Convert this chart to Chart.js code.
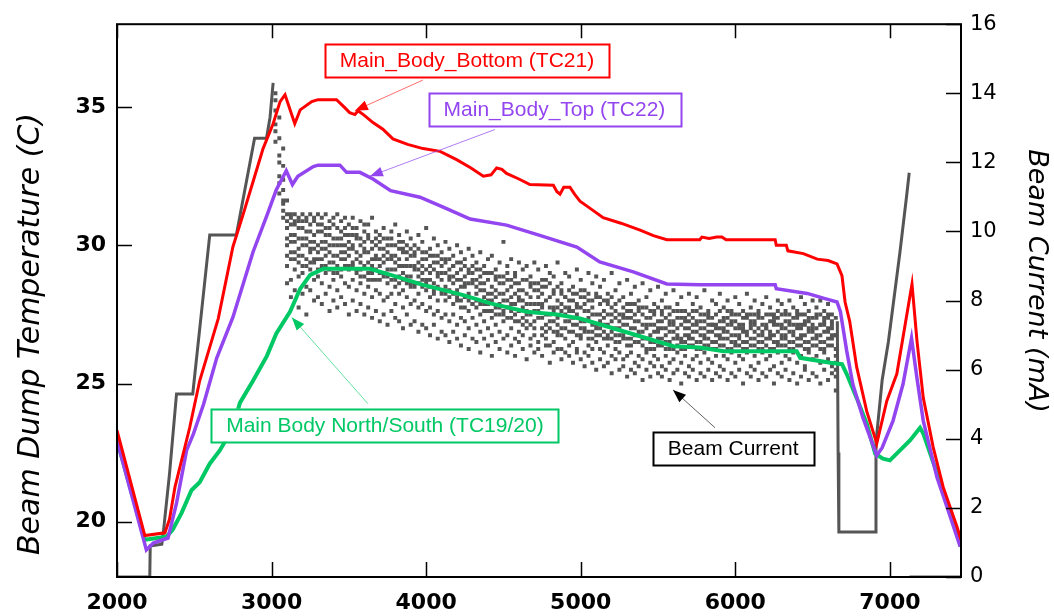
<!DOCTYPE html>
<html><head><meta charset="utf-8">
<script src="https://cdn.jsdelivr.net/npm/chart.js@4/dist/chart.umd.min.js"></script>
<style>html,body{margin:0;padding:0;background:#fff;}#c{display:block;}</style>
</head><body>
<canvas id="c" width="1054" height="616"></canvas>
<script>
// ---------- tick labels ----------
const xTicks = [2000, 3000, 4000, 5000, 6000, 7000];
const tempTicks = [20, 25, 30, 35];
const currentTicks = [0, 2, 4, 6, 8, 10, 12, 14, 16];

// ---------- temperature series (left axis, C) ----------
const tc21X = [2000,2180,2310,2340,2375,2470,2535,2655,2750,2815,2880,2945,3010,3055,3087,3150,3185,3260,3300,3420,3470,3505,3539,3560,3600,3656,3720,3785,3880,3980,4090,4197,4290,4370,4420,4456,4490,4520,4600,4671,4823,4845,4866,4890,4930,4960,4995,5070,5145,5260,5384,5470,5557,5700,5770,5784,5830,5880,5913,5940,6258,6265,6330,6340,6440,6530,6600,6658,6690,6710,6740,6785,6850,6915,6980,7045,7143,7176,7216,7280,7345,7435,7460];
const tc21Y = [23.3,19.5,19.6,20.1,21.25,23.4,25.1,27.35,29.95,31.1,32.3,33.5,34.4,35.2,35.45,34.4,34.9,35.2,35.27,35.27,35.0,34.8,34.73,34.87,34.7,34.44,34.2,33.85,33.65,33.5,33.4,33.1,32.8,32.5,32.55,32.8,32.75,32.6,32.4,32.2,32.17,31.95,31.85,32.1,32.1,31.85,31.6,31.3,31.0,30.8,30.55,30.35,30.2,30.2,30.2,30.3,30.25,30.3,30.3,30.2,30.2,30.0,30.0,29.8,29.7,29.5,29.45,29.33,28.9,27.95,27.25,25.6,24.0,22.83,24.37,25.35,28.6,26.5,24.48,22.7,21.25,19.8,19.35];

const tc22X = [2000,2190,2235,2330,2385,2450,2495,2560,2645,2750,2880,2970,3030,3095,3135,3170,3270,3300,3442,3485,3571,3656,3770,3960,4110,4285,4520,4735,4975,5123,5340,5557,5770,6258,6265,6465,6580,6658,6680,6720,6760,6825,6915,6950,7020,7085,7140,7175,7216,7305,7370,7455];
const tc22Y = [22.94,18.98,19.23,19.41,20.67,22.58,23.19,24.25,25.92,27.4,29.76,31.08,32.0,32.7,32.2,32.5,32.85,32.9,32.9,32.64,32.64,32.4,31.98,31.74,31.38,30.95,30.73,30.36,29.94,29.4,29.04,28.6,28.57,28.57,28.43,28.26,28.07,27.95,27.6,26.2,24.98,23.77,22.4,22.68,23.65,24.98,26.64,25.2,23.65,21.6,20.53,19.1];

const tc1920X = [2000,2180,2320,2360,2418,2482,2535,2600,2665,2750,2795,2880,2970,3030,3120,3185,3250,3335,3635,3770,3980,4240,4415,4650,4845,4995,5275,5600,5770,5925,6397,6420,6615,6690,6720,6785,6850,6905,6955,7000,7065,7130,7195,7216,7305,7390,7460];
const tc1920Y = [22.94,19.35,19.46,19.71,20.32,21.14,21.43,22.1,22.58,23.4,24.3,25.1,26.0,26.8,27.6,28.43,28.93,29.15,29.15,28.93,28.57,28.2,27.9,27.6,27.5,27.35,26.89,26.35,26.3,26.17,26.17,25.93,25.75,25.7,25.35,24.48,23.55,22.46,22.28,22.22,22.58,22.94,23.4,23.19,21.75,20.3,19.1];

// ---------- beam current (right axis, mA) ----------
const beamTraceX = [2000,2212,2215,2290,2300,2340,2385,2490,2600,2772,2890,2967,2990,3010,3011,6660,6665,6670,6905,6910,6950,6990,7065,7110,7125,7126,7127,7460];
const beamTraceY = [0,0,0.9,0.95,1.3,3.0,5.3,5.3,9.9,9.9,12.7,12.7,13.3,14.3,null,7.4,3.6,1.3,1.3,3.9,5.7,6.8,9.4,11.1,11.7,null,0,0];

const beamCloudX = [3025,3050,3075,
3100,3125,3150,3175,3200,3225,3250,3275,3300,
3325,3350,3375,3400,3425,3450,3475,3500,
3525,3550,3575,3600,3625,3650,3675,3700,
3725,3750,3775,3800,3825,3850,3875,3900,
3925,3950,3975,4000,4025,4050,4075,4100,
4125,4150,4175,4200,4225,4250,4275,4300,
4325,4350,4375,4400,4425,4450,4475,4500,
4525,4550,4575,4600,4625,4650,4675,4700,
4725,4750,4775,4800,4825,4850,4875,4900,
4925,4950,4975,5000,5025,5050,5075,5100,
5125,5150,5175,5200,5225,5250,5275,5300,
5325,5350,5375,5400,5425,5450,5475,5500,
5525,5550,5575,5600,5625,5650,5675,5700,
5725,5750,5775,5800,5825,5850,5875,5900,
5925,5950,5975,6000,6025,6050,6075,6100,
6125,6150,6175,6200,6225,6250,6275,6300,
6325,6350,6375,6400,6425,6450,6475,6500,
6525,6550,6575,6600,6625,6650];
const beamCloudY = [
[14.0,13.5,13.1,12.6],[13.3,12.7,12.2,11.6,11.1],[12.4,11.9,11.2,10.8,10.4],
[10.5,10.1,9.6,9.0,8.5,10.9],[10.4,10.2,9.7,9.2,8.6,8.1],[10.5,9.9,9.4,8.9,8.3,10.3],[10.4,10.1,9.5,9.1,8.7,7.8],[10.5,10.3,9.8,9.3,8.8,8.2],[10.4,10.0,9.6,9.0,8.4,7.6],[10.5,10.2,9.7,9.4,8.9,8.3],[10.3,9.9,9.5,9.1,8.6,8.0],[10.5,10.2,9.6,9.2,8.7,8.1],
[10.4,10.0,9.5,9.0,8.5,7.9],[10.5,10.1,9.7,9.3,8.8,8.2],[10.3,9.9,9.4,8.9,8.4,7.7],[10.4,10.2,9.6,9.1,8.6,8.0],[10.5,9.8,9.3,8.8,8.3,7.8],[10.3,10.0,9.6,9.2,8.7,8.1],[10.4,9.9,9.4,9.0,8.5,7.9],[10.2,9.7,9.3,8.9,8.4,7.6],
[10.4,9.9,9.5,9.0,8.6,8.0],[10.1,9.8,9.2,8.8,8.3,7.7],[10.3,9.6,9.3,8.9,8.5,7.9],[10.0,9.7,9.4,8.7,8.2,7.6],[10.2,9.8,9.1,8.8,8.4,7.8],[10.4,9.5,9.2,8.6,8.1,7.5],[10.0,9.6,9.3,8.9,8.3,7.7],[9.9,9.7,9.0,8.6,8.2,7.4],
[10.1,9.5,9.1,8.7,8.0,7.6],[9.8,9.4,8.9,8.5,8.1,7.3],[10.0,9.6,9.2,8.6,8.2,7.7],[10.2,9.3,8.9,8.4,7.9,7.5],[9.9,9.5,9.0,8.7,8.2,7.4],[9.7,9.4,8.8,8.3,7.8,7.2],[10.0,9.2,9.0,8.5,8.1,7.6],[9.8,9.5,8.7,8.4,7.9,7.3],
[9.6,9.3,8.9,8.5,8.0,7.4],[9.9,9.1,8.7,8.2,7.8,7.1],[9.7,9.4,8.8,8.4,7.9,7.3],[10.1,9.2,8.6,8.3,7.7,7.2],[9.5,9.0,8.8,8.1,7.8,7.0],[9.8,9.3,8.5,8.2,7.6,7.3],[9.6,9.1,8.7,8.0,7.7,6.9],[9.4,9.0,8.6,8.3,7.5,7.1],
[9.7,9.2,8.4,8.0,7.6,7.0],[9.5,8.9,8.6,8.1,7.4,6.8],[9.3,9.0,8.5,7.9,7.6,7.1],[9.6,8.8,8.3,8.0,7.3,6.9],[9.4,9.1,8.6,7.8,7.5,6.7],[9.2,8.7,8.4,8.1,7.4,7.0],[9.5,8.9,8.2,7.7,7.2,6.6],[9.3,8.8,8.5,7.9,7.5,6.9],
[9.1,8.6,8.2,7.8,7.3,6.8],[9.4,8.7,8.3,7.6,7.1,6.5],[9.0,8.5,8.1,7.9,7.4,6.9],[9.2,8.8,8.0,7.7,7.2,6.7],[9.3,8.4,8.2,7.5,7.0,6.4],[8.9,8.6,8.1,7.8,7.3,6.8],[9.1,8.7,7.9,7.6,7.1,6.6],[9.7,8.5,8.2,7.7,7.4,6.9],
[9.0,8.6,8.0,7.5,7.0,6.5],[9.2,8.4,8.1,7.7,7.2,6.7],[8.8,8.5,7.9,7.6,6.9,6.4],[9.1,8.3,8.0,7.4,7.1,6.8],[8.9,8.6,7.8,7.5,7.0,6.6],[9.0,8.2,7.9,7.6,7.2,6.3],[8.7,8.4,8.1,7.3,6.9,6.7],[9.1,8.5,7.7,7.4,7.0,6.5],
[8.9,8.3,7.9,7.5,6.8,6.6],[8.6,8.2,7.8,7.2,7.0,6.4],[9.0,8.4,7.6,7.3,6.9,6.7],[8.8,8.1,7.8,7.4,6.7,6.2],[8.7,8.3,7.7,7.1,6.8,6.5],[9.1,8.0,7.5,7.3,7.0,6.6],[8.5,8.2,7.9,7.2,6.6,6.3],[8.8,8.1,7.6,7.4,6.9,6.5],
[8.7,8.0,7.7,7.1,6.7,6.4],[8.4,8.2,7.5,7.3,6.8,6.2],[8.9,7.9,7.6,7.0,6.6,6.5],[8.6,8.1,7.4,7.2,6.9,6.3],[8.3,7.9,7.7,7.1,6.5,6.1],[8.8,8.0,7.5,6.9,6.7,6.4],[8.5,7.8,7.3,7.1,6.6,6.2],[8.7,8.1,7.6,7.0,6.8,6.0],
[8.4,7.9,7.4,7.2,6.6,6.3],[8.6,7.7,7.5,6.9,6.5,6.1],[8.2,8.0,7.3,7.0,6.7,6.2],[8.8,7.8,7.6,7.1,6.4,5.9],[8.3,7.9,7.2,6.8,6.6,6.3],[8.5,7.6,7.4,7.0,6.5,6.0],[8.1,7.8,7.3,6.9,6.3,6.1],[8.6,7.7,7.5,6.7,6.4,5.8],
[8.2,7.9,7.2,6.9,6.5,6.0],[8.4,7.6,7.4,6.8,6.2,5.9],[8.0,7.7,7.1,7.0,6.4,6.1],[8.5,7.8,7.3,6.7,6.3,5.7],[8.1,7.5,7.2,6.9,6.5,6.0],[8.3,7.7,7.0,6.6,6.2,5.8],[7.9,7.6,7.3,6.8,6.4,6.1],[8.4,7.4,7.1,6.9,6.3,5.9],
[8.0,7.7,7.2,6.7,6.1,5.8],[8.2,7.5,7.0,6.8,6.4,6.0],[7.8,7.6,7.3,6.6,6.2,5.7],[8.3,7.4,7.1,6.9,6.3,5.9],[7.9,7.7,7.2,6.7,6.5,6.0],[8.1,7.5,6.9,6.6,6.2,5.6],[7.7,7.4,7.2,6.8,6.4,5.9],[8.2,7.6,7.0,6.7,6.1,5.8],
[7.9,7.5,7.3,6.9,6.3,6.0],[8.1,7.7,7.1,6.6,6.4,5.7],[7.8,7.4,7.2,6.8,6.2,5.9],[8.3,7.6,7.0,6.7,6.5,5.8],[7.7,7.5,7.3,6.9,6.3,6.0],[8.0,7.3,7.1,6.6,6.2,5.7],[7.9,7.6,7.2,6.8,6.4,5.9],[8.2,7.4,7.0,6.7,6.1,5.8],
[7.8,7.5,7.2,6.9,6.4,6.0],[8.0,7.7,7.1,6.6,6.3,5.7],[7.6,7.4,7.3,6.8,6.5,5.9],[8.1,7.6,7.0,6.7,6.2,5.8],[7.9,7.3,7.2,6.9,6.4,6.0],[7.7,7.5,7.1,6.6,6.3,5.6],[8.2,7.6,7.0,6.8,6.5,5.9],[7.8,7.4,7.2,6.7,6.1,5.8],
[8.0,7.6,7.3,6.9,6.4,6.0],[7.7,7.5,7.0,6.6,6.2,5.7],[7.9,7.3,7.1,6.8,6.5,5.9],[8.1,7.6,7.2,6.7,6.3,5.8],[7.8,7.4,7.0,6.9,6.4,6.0],[7.6,7.5,7.3,6.6,6.1,5.6],[8.0,7.7,7.1,6.8,6.5,5.9],[7.9,7.3,7.2,6.7,6.2,5.8],
[7.7,7.6,7.0,6.9,6.4,6.0],[8.0,7.4,7.3,6.6,6.3,5.7],[7.8,7.5,7.1,6.8,6.5,5.9],[7.6,7.7,7.2,6.7,6.2,5.6],[8.1,7.3,7.0,6.9,6.4,5.8],[7.9,7.6,7.3,6.6,6.1,6.0],[7.7,7.4,7.1,6.8,6.5,5.7],[8.0,7.5,7.2,6.7,6.3,5.9],
[7.8,7.6,7.0,6.9,6.4,5.8],[8.0,7.3,7.3,6.6,6.2,5.6],[7.7,7.5,7.1,6.8,6.5,6.0],[7.9,7.6,7.2,6.7,6.3,5.7],[7.6,7.4,7.0,6.9,6.1,5.9],[7.5,7.0,6.6,6.2,5.8,5.4]
];
// denser core of the cloud (same columns)
const beamCloudCoreY = [
[13.8,12.9],[12.0,11.4],[11.5,10.9,10.6],
[10.3,9.8,9.3],[10.5,9.9,9.4],[10.2,9.7,9.2],[10.3,9.8,9.3],[10.1,9.6,9.0],[10.3,9.8,9.2],[10.0,9.5,9.1],[10.4,9.7,9.2],[10.0,9.4,8.9],
[10.2,9.7,9.2],[9.9,9.5,9.0],[10.1,9.6,9.1],[9.8,9.3,8.8],[10.1,9.6,9.0],[9.8,9.4,8.9],[10.1,9.6,9.2],[9.9,9.5,9.0],
[10.1,9.6,9.1],[9.9,9.4,8.9],[9.8,9.1,8.7],[10.2,9.5,9.0],[9.9,9.4,8.6],[9.7,9.0,8.8],[9.8,9.2,8.6],[9.5,9.2,8.8],
[9.8,9.3,8.8],[9.6,9.2,8.7],[9.8,9.3,8.9],[9.6,9.1,8.6],[9.7,9.2,8.5],[9.5,9.0,8.6],[9.6,9.4,8.7],[9.3,9.0,8.5],
[9.4,9.0,8.4],[9.5,8.9,8.5],[9.2,9.0,8.6],[9.4,8.9,8.5],[9.3,8.6,8.4],[9.1,8.9,8.3],[9.3,8.8,8.4],[9.2,8.8,8.2],
[9.1,8.8,8.2],[9.2,8.7,8.3],[9.0,8.7,8.2],[9.1,8.6,8.1],[8.9,8.4,8.0],[9.0,8.5,7.8],[8.8,8.5,8.0],[9.0,8.6,7.9],
[8.9,8.4,8.0],[8.9,8.5,7.9],[8.8,8.3,7.7],[8.6,8.2,7.9],[8.8,8.0,7.7],[8.7,8.3,7.6],[8.5,8.2,7.8],[8.7,8.0,7.6],
[8.8,8.3,7.8],[8.6,7.9,7.5],[8.7,8.2,7.4],[8.5,8.1,7.7],[8.3,8.0,7.3],[8.6,7.7,7.4],[8.5,7.9,7.6],[8.3,7.9,7.2],
[8.5,8.1,7.7],[8.4,7.9,7.5],[8.6,8.0,7.1],[8.5,7.6,7.2],[8.2,7.8,7.4],[8.4,7.8,7.1],[8.3,7.7,7.0],[8.1,7.8,7.2],
[8.3,7.8,7.4],[8.0,7.7,7.1],[8.2,7.8,7.3],[8.3,7.8,7.0],[8.1,7.4,7.2],[8.2,7.7,7.1],[8.0,7.6,6.9],[8.2,7.3,7.2],
[8.1,7.6,7.0],[8.0,7.3,7.1],[7.9,7.6,6.9],[8.1,7.4,6.9],[7.7,7.5,7.0],[8.0,7.2,6.8],[7.6,7.5,7.0],[7.9,7.3,6.9],
[7.7,7.5,6.7],[7.9,7.2,7.0],[7.8,7.4,6.8],[7.6,7.1,6.9],[7.8,7.3,6.6],[7.5,7.3,6.8],[7.7,7.1,6.6],[7.8,7.2,6.7],
[7.6,7.4,6.9],[7.8,7.2,6.6],[7.4,7.1,6.8],[7.7,7.3,6.6],[7.5,7.0,6.9],[7.7,7.3,6.8],[7.5,7.0,6.6],[7.4,7.2,6.9],
[7.7,7.1,6.7],[7.4,7.3,6.8],[7.6,7.0,6.6],[7.4,7.2,6.9],[7.6,7.1,6.7],[7.5,7.3,6.8],[7.3,7.0,6.6],[7.7,7.2,6.9],
[7.4,7.1,6.7],[7.5,7.3,6.9],[7.7,7.0,6.6],[7.4,7.2,6.8],[7.6,7.0,6.7],[7.3,7.2,6.8],[7.5,7.1,6.6],[7.6,7.3,6.9],
[7.4,7.1,6.7],[7.6,7.2,6.8],[7.5,7.0,6.6],[7.3,7.2,6.9],[7.6,7.1,6.6],[7.4,7.0,6.8],[7.5,7.3,6.7],[7.6,7.0,6.9],
[7.4,7.2,6.7],[7.6,7.1,6.8],[7.3,7.0,6.6],[7.5,7.3,6.9],[7.6,7.2,6.7],[7.4,7.0,6.8],[7.5,7.2,6.6],[7.3,7.1,6.9],
[7.5,7.2,6.7],[7.6,7.0,6.8],[7.4,7.3,6.6],[7.5,7.1,6.9],[7.3,7.2,6.7],[7.0,6.4,6.0]
];

// ---------- annotation labels ----------
const labelTexts = ['Main_Body_Bottom (TC21)', 'Main_Body_Top (TC22)', 'Main Body North/South (TC19/20)', 'Beam Current'];

function pts(xs, ys) { return xs.map((x, i) => ({ x: x, y: ys[i] })); }
const cloudPts = [];
beamCloudX.forEach((x, i) => {
  (beamCloudY[i] || []).forEach(v => cloudPts.push({ x: x, y: v }));
  (beamCloudCoreY[i] || []).forEach(v => cloudPts.push({ x: x, y: v }));
});

const RED = '#ff0000', PURPLE = '#9345ef', GREEN = '#00c864', GREY = '#555555';

const annotations = [
  { text: labelTexts[0], color: RED, lineColor: 'rgba(255,60,60,0.75)', box: [4264, 36.70], tail: [3979, 35.98], tip: [3539, 34.87] },
  { text: labelTexts[1], color: PURPLE, lineColor: 'rgba(150,80,240,0.75)', box: [4830, 34.91], tail: [4445, 34.19], tip: [3636, 32.50] },
  { text: labelTexts[2], color: GREEN, lineColor: 'rgba(0,200,100,0.6)', box: [3733, 23.49], tail: [3623, 24.27], tip: [3131, 27.39] },
  { text: labelTexts[3], color: '#000000', lineColor: 'rgba(60,60,60,0.8)', box: [5986, 22.65], tail: [5869, 23.40], tip: [5597, 24.77] }
];

const framePlugin = {
  id: 'frame',
  afterDraw(chart) {
    const ctx = chart.ctx, a = chart.chartArea;
    const sx = chart.scales.x, sy = chart.scales.y, sy1 = chart.scales.y1;
    ctx.save();
    ctx.strokeStyle = '#000'; ctx.lineWidth = 2;
    ctx.strokeRect(a.left, a.top, a.right - a.left, a.bottom - a.top);
    ctx.lineWidth = 1.5;
    ctx.beginPath();
    xTicks.forEach(v => {
      const px = Math.round(sx.getPixelForValue(v)) + 0.5;
      ctx.moveTo(px, a.bottom); ctx.lineTo(px, a.bottom - 15);
      ctx.moveTo(px, a.top); ctx.lineTo(px, a.top + 14);
    });
    tempTicks.forEach(v => {
      const py = Math.round(sy.getPixelForValue(v)) + 0.5;
      ctx.moveTo(a.left, py); ctx.lineTo(a.left + 15, py);
    });
    currentTicks.forEach(v => {
      const py = Math.round(sy1.getPixelForValue(v)) + 0.5;
      ctx.moveTo(a.right, py); ctx.lineTo(a.right - 15, py);
    });
    ctx.stroke();

    ctx.fillStyle = '#000';
    ctx.textAlign = 'center'; ctx.textBaseline = 'middle';
    ctx.save();
    ctx.translate(31, 334); ctx.rotate(-Math.PI / 2);
    ctx.font = 'italic 30px "DejaVu Sans"';
    ctx.fillText('Beam Dump Temperature (C)', 0, 0);
    ctx.restore();
    ctx.save();
    ctx.translate(1036, 281); ctx.rotate(Math.PI / 2);
    ctx.font = 'italic 27px "DejaVu Sans"';
    ctx.fillText('Beam Current (mA)', 0, 0);
    ctx.restore();

    ctx.font = '21px "Liberation Sans", Arial, sans-serif';
    annotations.forEach(an => {
      const tx = sx.getPixelForValue(an.tail[0]), ty = sy.getPixelForValue(an.tail[1]);
      const px = sx.getPixelForValue(an.tip[0]), py = sy.getPixelForValue(an.tip[1]);
      ctx.strokeStyle = an.lineColor; ctx.lineWidth = 1;
      ctx.beginPath(); ctx.moveTo(tx, ty); ctx.lineTo(px, py); ctx.stroke();
      const ang = Math.atan2(py - ty, px - tx), L = 13, W = 5;
      ctx.fillStyle = an.color;
      ctx.beginPath();
      ctx.moveTo(px, py);
      ctx.lineTo(px - L * Math.cos(ang) + W * Math.sin(ang), py - L * Math.sin(ang) - W * Math.cos(ang));
      ctx.lineTo(px - L * Math.cos(ang) - W * Math.sin(ang), py - L * Math.sin(ang) + W * Math.cos(ang));
      ctx.closePath(); ctx.fill();

      const cx = sx.getPixelForValue(an.box[0]), cy = sy.getPixelForValue(an.box[1]);
      const w = ctx.measureText(an.text).width + 30, h = 33;
      ctx.fillStyle = '#fff';
      ctx.fillRect(cx - w / 2, cy - h / 2, w, h);
      ctx.strokeStyle = an.color; ctx.lineWidth = 2;
      ctx.strokeRect(Math.round(cx - w / 2) + 0.5, Math.round(cy - h / 2) + 0.5, Math.round(w), h);
      ctx.fillStyle = an.color;
      ctx.textAlign = 'center'; ctx.textBaseline = 'middle';
      ctx.fillText(an.text, cx, cy + 1);
    });
    ctx.restore();
  }
};

new Chart(document.getElementById('c'), {
  type: 'scatter',
  data: {
    datasets: [
      { label: 'Main_Body_Bottom (TC21)', data: pts(tc21X, tc21Y), yAxisID: 'y', showLine: true, borderColor: RED, borderWidth: 3, pointRadius: 0, order: 1 },
      { label: 'Main_Body_Top (TC22)', data: pts(tc22X, tc22Y), yAxisID: 'y', showLine: true, borderColor: PURPLE, borderWidth: 3.5, pointRadius: 0, order: 2 },
      { label: 'Main Body North/South (TC19/20)', data: pts(tc1920X, tc1920Y), yAxisID: 'y', showLine: true, borderColor: GREEN, borderWidth: 4, pointRadius: 0, order: 3 },
      { label: 'Beam Current trace', data: pts(beamTraceX, beamTraceY), yAxisID: 'y1', showLine: true, spanGaps: false, borderColor: GREY, borderWidth: 3, pointRadius: 0, order: 4 },
      { label: 'Beam Current', data: cloudPts, yAxisID: 'y1', showLine: false, pointStyle: 'rect', pointRadius: 2.8, borderWidth: 0, backgroundColor: GREY, order: 5 }
    ]
  },
  options: {
    responsive: false, animation: false, events: [],
    layout: { padding: { top: 23, left: 0, right: 0, bottom: 0 } },
    plugins: { legend: { display: false }, tooltip: { enabled: false } },
    scales: {
      x: {
        type: 'linear', min: 2000, max: 7460,
        afterBuildTicks: s => { s.ticks = xTicks.map(v => ({ value: v })); },
        afterFit: s => { s.height = 39; },
        grid: { display: false, drawTicks: false }, border: { display: false },
        ticks: { autoSkip: false, maxRotation: 0, padding: 13, color: '#000', callback: v => String(v), font: { family: 'DejaVu Sans', size: 22, weight: 'bold' } }
      },
      y: {
        position: 'left', min: 18, max: 38,
        afterBuildTicks: s => { s.ticks = tempTicks.map(v => ({ value: v })); },
        afterFit: s => { s.width = 117; },
        grid: { display: false, drawTicks: false }, border: { display: false },
        ticks: { autoSkip: false, padding: 11, color: '#000', callback: v => String(v), font: { family: 'DejaVu Sans', size: 22, weight: 'bold' } }
      },
      y1: {
        position: 'right', min: 0, max: 16,
        afterBuildTicks: s => { s.ticks = currentTicks.map(v => ({ value: v })); },
        afterFit: s => { s.width = 93; },
        grid: { display: false, drawTicks: false }, border: { display: false },
        ticks: { autoSkip: false, padding: 9, color: '#000', callback: v => String(v), font: { family: 'DejaVu Sans', size: 21 } }
      }
    }
  },
  plugins: [framePlugin]
});
</script>
</body></html>
